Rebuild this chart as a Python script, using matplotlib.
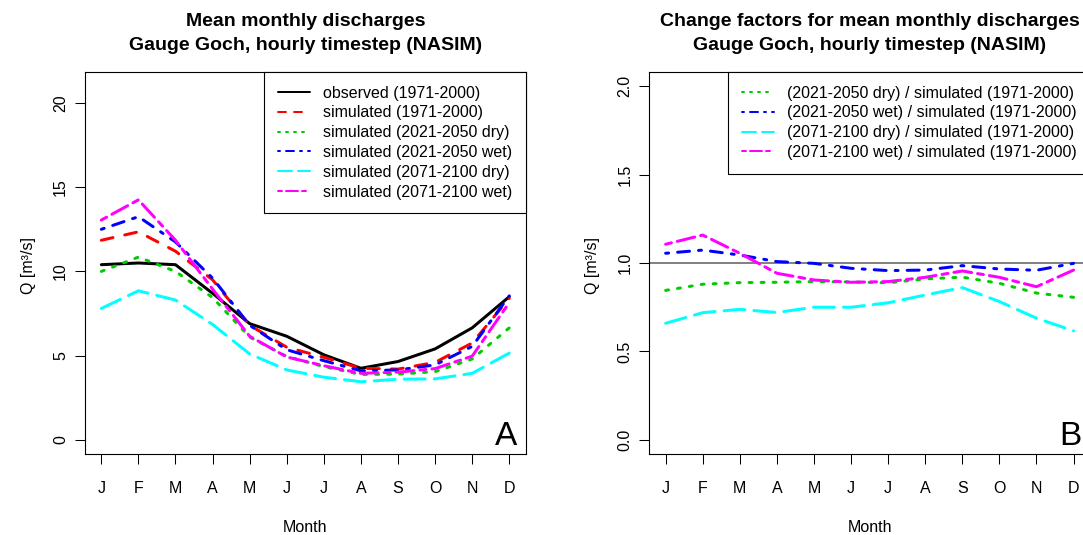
import matplotlib
matplotlib.use("Agg")
import matplotlib.pyplot as plt
from matplotlib.lines import Line2D

plt.rcParams['font.family'] = ['Liberation Sans', 'DejaVu Sans']
plt.rcParams['lines.scale_dashes'] = False

# ---------------------------------------------------------------- data
months = ["J", "F", "M", "A", "M", "J", "J", "A", "S", "O", "N", "D"]
month_idx = list(range(1, 13))

# mean monthly discharge [m3/s]
observed_7100 = [10.4, 10.5, 10.4, 8.7, 6.9, 6.15, 5.05, 4.25, 4.65, 5.4, 6.65, 8.5]
simulated_7100 = [11.85, 12.35, 11.2, 9.5, 6.8, 5.5, 4.9, 4.25, 4.2, 4.6, 5.75, 8.4]
simulated_2150_dry = [10.0, 10.85, 10.0, 8.45, 6.1, 4.95, 4.35, 3.88, 3.9, 4.05, 4.8, 6.65]
simulated_2150_wet = [12.5, 13.25, 11.75, 9.6, 6.8, 5.35, 4.7, 4.1, 4.15, 4.45, 5.55, 8.55]
simulated_7121_dry = [7.8, 8.85, 8.3, 6.85, 5.1, 4.15, 3.72, 3.45, 3.6, 3.62, 3.95, 5.15]
simulated_7121_wet = [13.05, 14.25, 11.85, 8.95, 6.15, 4.92, 4.4, 3.95, 4.02, 4.23, 4.97, 8.15]

# change factors relative to simulated (1971-2000)
cf_2150_dry = [0.845, 0.88, 0.889, 0.891, 0.895, 0.893, 0.888, 0.91, 0.92, 0.885, 0.83, 0.806]
cf_2150_wet = [1.055, 1.073, 1.045, 1.008, 0.998, 0.97, 0.957, 0.96, 0.985, 0.966, 0.959, 0.998]
cf_7121_dry = [0.659, 0.719, 0.738, 0.72, 0.75, 0.75, 0.775, 0.819, 0.861, 0.782, 0.688, 0.616]
cf_7121_wet = [1.106, 1.158, 1.055, 0.942, 0.904, 0.891, 0.895, 0.919, 0.955, 0.919, 0.866, 0.96]

q_ticks = [0, 5, 10, 15, 20]
cf_ticks = [0.0, 0.5, 1.0, 1.5, 2.0]
cf_tick_labels = ["0.0", "0.5", "1.0", "1.5", "2.0"]

labels_q = ["observed (1971-2000)", "simulated (1971-2000)",
            "simulated (2021-2050 dry)", "simulated (2021-2050 wet)",
            "simulated (2071-2100 dry)", "simulated (2071-2100 wet)"]
labels_cf = ["(2021-2050 dry) / simulated (1971-2000)",
             "(2021-2050 wet) / simulated (1971-2000)",
             "(2071-2100 dry) / simulated (1971-2000)",
             "(2071-2100 wet) / simulated (1971-2000)"]

# ---------------------------------------------------------------- styles
PX = 0.72          # points per pixel at 100 dpi
GREEN = "#00CD00"
styles = {
    "obs": ("black", None),
    "sim": ("#FF0000", "44"),
    "dry50": (GREEN, "13"),
    "wet50": ("#0000FF", "1343"),
    "dry00": ("#00FFFF", "73"),
    "wet00": ("#FF00FF", "2262"),
}


def dash_seq(pattern, lwd):
    return tuple(PX * lwd * int(c) for c in pattern)


def line_kw(key, lwd):
    color, pat = styles[key]
    kw = dict(color=color, lw=lwd * PX, solid_capstyle="round",
              dash_capstyle="round", solid_joinstyle="round",
              dash_joinstyle="round")
    if pat is not None:
        kw["dashes"] = dash_seq(pat, lwd)
    return kw


def handle(key):
    return Line2D([], [], **line_kw(key, 2))


FS = 11.5
W, H = 1083, 535
fig = plt.figure(figsize=(W / 100, H / 100), dpi=100)

ax_l, ax_b, ax_w, ax_h = 85 / W, (H - 454) / H, 440.6 / W, 382 / H
ax1 = fig.add_axes([ax_l, ax_b, ax_w, ax_h])
ax2 = fig.add_axes([649.3 / W, ax_b, ax_w, ax_h])

TITLE_KW = dict(fontsize=14, fontweight="bold", pad=15.5, linespacing=1.55)

# ---------------------------------------------------------------- panel A
series_q = [("obs", observed_7100), ("sim", simulated_7100),
            ("dry50", simulated_2150_dry), ("wet50", simulated_2150_wet),
            ("dry00", simulated_7121_dry), ("wet00", simulated_7121_wet)]
for key, vals in series_q:
    ax1.plot(month_idx, vals, **line_kw(key, 3))
ax1.set_xlim(0.56, 12.44)
ax1.set_ylim(-0.84, 21.84)
ax1.set_yticks(q_ticks)
ax1.set_yticklabels([str(t) for t in q_ticks])
leg1 = ax1.legend([handle(k) for k, _ in series_q], labels_q,
                  loc="upper right", borderaxespad=0, fontsize=FS,
                  handlelength=2.0, handletextpad=0.8, borderpad=0.85,
                  labelspacing=0.3, fancybox=False, edgecolor="black",
                  framealpha=1)
leg1.get_frame().set_linewidth(0.8)
ax1.text(1 - 8.6 / 440.6, 9 / 382, "A", transform=ax1.transAxes,
         ha="right", va="baseline", fontsize=24)
ax1.set_title("Mean monthly discharges\nGauge Goch, hourly timestep (NASIM)",
              **TITLE_KW)

# ---------------------------------------------------------------- panel B
ax2.axhline(1.0, color="#5a5a5a", lw=1.5 * PX, zorder=1)
series_cf = [("dry50", cf_2150_dry), ("wet50", cf_2150_wet),
             ("dry00", cf_7121_dry), ("wet00", cf_7121_wet)]
for key, vals in series_cf:
    ax2.plot(month_idx, vals, zorder=2, **line_kw(key, 3))
ax2.set_xlim(0.56, 12.44)
ax2.set_ylim(-0.08, 2.08)
ax2.set_yticks(cf_ticks)
ax2.set_yticklabels(cf_tick_labels)
leg2 = ax2.legend([handle(k) for k, _ in series_cf], labels_cf,
                  loc="upper right", borderaxespad=0, fontsize=FS,
                  handlelength=2.0, handletextpad=0.8, borderpad=0.85,
                  labelspacing=0.3, fancybox=False, edgecolor="black",
                  framealpha=1)
leg2.get_frame().set_linewidth(0.8)
ax2.text(1 - 8.6 / 440.6, 9 / 382, "B", transform=ax2.transAxes,
         ha="right", va="baseline", fontsize=24)
ax2.set_title("Change factors for mean monthly discharges\n"
              "Gauge Goch, hourly timestep (NASIM)", **TITLE_KW)

# ---------------------------------------------------------------- axes cosmetics
for ax, ylab_x in ((ax1, 28), (ax2, 649.3 - 57)):
    ax.set_xticks(month_idx)
    ax.set_xticklabels(months)
    ax.tick_params(axis="both", direction="out", length=7.2, width=0.75,
                   labelsize=FS, colors="black")
    ax.tick_params(axis="x", pad=12)
    ax.tick_params(axis="y", pad=5, labelrotation=90)
    for lbl in ax.get_yticklabels():
        lbl.set_va("center")
    for sp in ax.spines.values():
        sp.set_linewidth(0.8)
        sp.set_color("black")
    centre_x = (ax.get_position().x0 + ax.get_position().x1) / 2
    fig.text(centre_x, (H - 527) / H, "Month", ha="center", va="center",
             fontsize=FS)
    fig.text(ylab_x / W, 1 - 266 / H, "Q [m\u00b3/s]", ha="center",
             va="center", rotation=90, fontsize=FS)

fig.savefig("out.png", dpi=100)
